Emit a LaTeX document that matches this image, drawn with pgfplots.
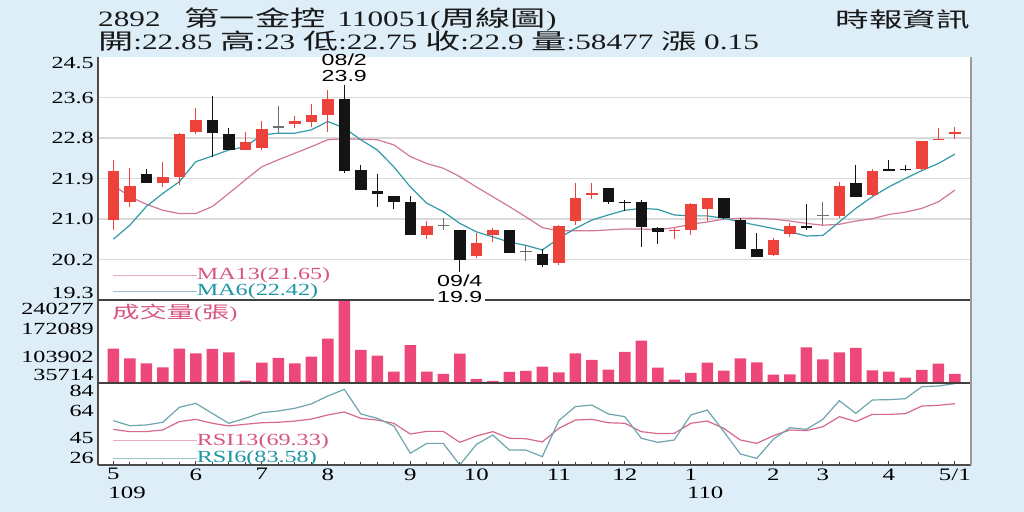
\documentclass[border=0pt]{standalone}
\usepackage{pgfplots}
\pgfplotsset{compat=1.18}
\usepackage{pgfplotstable}
\usepackage{fontspec}
\setmainfont{Liberation Serif}[FakeStretch=1.42]
\newfontfamily\sansA{Liberation Sans}[FakeStretch=1.45]
\newfontfamily\cjk{Noto Sans CJK TC}[FakeStretch=1.6]

\definecolor{bg}{RGB}{221,238,249}
\definecolor{cred}{RGB}{236,66,58}
\definecolor{cblk}{RGB}{20,20,20}
\definecolor{cgry}{RGB}{110,110,110}
\definecolor{cma13}{RGB}{210,120,150}
\definecolor{cma6}{RGB}{50,155,170}
\definecolor{cvol}{RGB}{238,72,122}
\definecolor{crsi13}{RGB}{215,105,140}
\definecolor{crsi6}{RGB}{110,165,175}
\definecolor{cgrid}{RGB}{218,218,218}
\definecolor{tpink}{RGB}{215,85,130}
\definecolor{tteal}{RGB}{30,150,165}
\definecolor{lpink}{RGB}{232,172,188}
\definecolor{lteal}{RGB}{150,195,200}

\newcommand{\tf}{\fontsize{17bp}{18bp}\selectfont}
\newcommand{\hf}{\fontsize{21bp}{22bp}\selectfont}
\newcommand{\af}{\sansA\fontsize{16bp}{16bp}\selectfont}

\pgfplotstableread{
i o h l c
0 21.01 22.30 20.80 22.05
1 21.39 22.12 21.30 21.75
3 21.81 22.26 21.71 21.94
4 21.94 22.87 21.76 22.85
5 22.90 23.41 22.85 23.15
8 22.51 22.90 22.50 22.69
9 22.55 23.12 22.50 22.96
11 23.07 23.24 22.98 23.12
12 23.11 23.50 23.01 23.25
13 23.26 23.80 22.90 23.60
19 20.70 20.99 20.60 20.89
22 20.25 20.74 20.19 20.53
23 20.70 20.85 20.55 20.80
27 20.10 20.90 20.05 20.89
28 20.99 21.80 20.90 21.49
29 21.55 21.80 21.46 21.60
34 20.77 20.83 20.60 20.80
35 20.80 21.38 20.70 21.35
36 21.25 21.49 20.99 21.49
40 20.26 20.62 20.24 20.58
41 20.71 20.94 20.65 20.89
44 21.10 21.83 21.06 21.74
46 21.55 22.10 21.51 22.05
49 22.10 22.70 22.08 22.70
50 22.72 22.99 22.72 22.75
51 22.85 23.00 22.75 22.90
}\redT

\pgfplotstableread{
i o h l c
2 21.99 22.10 21.80 21.81
6 23.15 23.66 22.37 22.87
7 22.85 22.99 22.50 22.51
14 23.60 23.90 22.01 22.07
15 22.08 22.19 21.65 21.65
16 21.64 21.99 21.30 21.56
17 21.53 21.53 21.24 21.40
18 21.39 21.53 20.70 20.70
21 20.80 20.80 19.90 20.15
24 20.80 20.80 20.30 20.30
26 20.28 20.40 20.01 20.05
30 21.70 21.70 21.35 21.39
31 21.40 21.45 21.21 21.37
32 21.39 21.44 20.44 20.87
33 20.83 20.87 20.50 20.76
37 21.49 21.49 21.04 21.05
38 21.02 21.05 20.40 20.40
39 20.39 20.74 20.21 20.21
42 20.89 21.35 20.80 20.85
45 21.80 22.19 21.51 21.51
47 22.10 22.30 22.07 22.07
48 22.11 22.19 22.07 22.09
}\blkT

\pgfplotstableread{
i o h l c
10 23.00 23.46 22.88 23.00
20 20.90 21.05 20.80 20.90
25 20.33 20.47 20.14 20.33
43 21.10 21.39 20.90 21.10
}\dojT

\pgfplotstableread{
i ma6 ma13 rsi6 rsi13 v
0 20.60 21.76 57.4 51.2 120330
1 20.90 21.51 53.8 49.6 96500
2 21.30 21.35 54.3 49.6 84180
3 21.58 21.22 56.2 50.8 74330
4 21.83 21.15 66.8 56.7 120330
5 22.26 21.15 69.6 58.3 108830
6 22.38 21.30 62.5 55.5 119510
7 22.51 21.58 55.5 53.6 111290
8 22.58 21.87 59.0 54.8 41460
9 22.83 22.15 63.0 55.9 85820
10 22.87 22.30 64.2 56.2 97330
11 22.87 22.44 66.1 57.1 84180
12 22.94 22.58 69.2 58.5 100610
13 23.12 22.73 74.8 61.4 144970
14 22.98 22.75 79.5 63.5 240277
15 22.73 22.74 62.1 59.0 117040
16 22.51 22.73 59.0 57.8 103080
17 22.15 22.62 53.6 55.5 63640
18 21.72 22.37 34.3 47.9 129360
19 21.37 22.22 41.3 49.8 63640
20 21.19 22.12 41.3 49.8 57890
21 20.94 21.94 26.0 42.0 108010
22 20.76 21.72 40.5 46.5 45570
23 20.65 21.51 47.2 49.6 40640
24 20.54 21.30 36.6 44.9 62820
25 20.47 21.08 36.6 44.6 65290
26 20.37 20.85 31.9 42.3 75970
27 20.62 20.78 57.4 51.9 62000
28 20.83 20.78 67.3 57.8 108830
29 21.01 20.78 68.4 58.3 92400
30 21.12 20.80 62.1 55.9 68570
31 21.22 20.82 60.2 55.5 112110
32 21.26 20.82 44.9 49.6 140040
33 21.24 20.80 42.0 48.2 73500
34 21.12 20.85 43.7 48.4 43930
35 21.10 20.92 61.4 55.5 60360
36 21.10 20.97 64.9 57.1 85820
37 21.05 21.03 49.6 51.9 66110
38 20.97 21.05 33.8 43.7 96500
39 20.90 21.05 30.7 41.3 86640
40 20.83 21.03 44.2 46.7 56250
41 20.76 20.99 52.4 50.8 57070
42 20.67 20.94 51.2 50.3 123610
43 20.68 20.90 58.3 53.1 94040
44 20.97 20.92 71.5 60.2 111290
45 21.26 20.99 62.5 56.7 121970
46 21.51 21.04 72.0 61.8 66930
47 21.72 21.13 72.2 61.8 63640
48 21.90 21.18 72.9 62.3 48860
49 22.07 21.26 81.4 67.7 67750
50 22.22 21.40 81.9 68.2 83360
51 22.42 21.65 83.58 69.33 58477
}\dataT

\begin{document}
\begin{tikzpicture}
\path[use as bounding box] (0bp,0bp) rectangle (1024bp,512bp);
\fill[bg] (0bp,0bp) rectangle (1024bp,512bp);
\fill[white] (98bp,47bp) rectangle (971bp,455bp);

% header
\node[anchor=west, inner sep=0, font=\hf, text=black!90] at (98bp,492bp)
  {\fontsize{22bp}{22bp}\selectfont 2892\hspace{24bp}{\cjk 第一金控}\hspace{12bp}110051({\cjk 周線圖})};
\node[anchor=west, inner sep=0, font=\hf, text=black!90] at (98bp,470.5bp)
  {\fontsize{22bp}{22bp}\selectfont{\cjk 開}:22.85 {\cjk 高}:23 {\cjk 低}:22.75 {\cjk 收}:22.9 {\cjk 量}:58477 {\cjk 漲} 0.15};
\node[anchor=east, inner sep=0, font=\hf, text=black!90] at (970bp,492bp) {\cjk 時報資訊};

% ---------------- price panel
\begin{axis}[
  at={(98bp,212bp)}, anchor=south west, scale only axis,
  width=873bp, height=243bp,
  xmin=-0.927, xmax=51.98, ymin=19.3, ymax=24.5,
  axis line style={draw=none},
  xtick=\empty,
  ytick={20.1667,21.0333,21.9,22.7667,23.6333},
  yticklabels={}, major tick length=0pt,
  ymajorgrids, grid style={draw=cgrid, line width=1.4bp},
  clip mode=individual,
]
\addplot[cma13, line width=1.2bp] table[x=i,y=ma13] {\dataT};
\addplot[cma6, line width=1.2bp] table[x=i,y=ma6] {\dataT};
% wicks
\addplot[draw=none, error bars/.cd, y dir=plus, y explicit, error mark=none,
  error bar style={draw=cred, line width=1.1bp}]
  table[x=i, y=l, y error expr=\thisrow{h}-\thisrow{l}] {\redT};
\addplot[draw=none, error bars/.cd, y dir=plus, y explicit, error mark=none,
  error bar style={draw=cblk, line width=1.1bp}]
  table[x=i, y=l, y error expr=\thisrow{h}-\thisrow{l}] {\blkT};
\addplot[draw=none, error bars/.cd, y dir=plus, y explicit, error mark=none,
  error bar style={draw=cgry, line width=1bp}]
  table[x=i, y=l, y error expr=\thisrow{h}-\thisrow{l}] {\dojT};
% bodies
\addplot[draw=none, error bars/.cd, y dir=plus, y explicit, error mark=none,
  error bar style={draw=cred, line width=11.5bp}]
  table[x=i, y=o, y error expr=\thisrow{c}-\thisrow{o}] {\redT};
\addplot[draw=none, error bars/.cd, y dir=plus, y explicit, error mark=none,
  error bar style={draw=cblk, line width=11.5bp}]
  table[x=i, y=c, y error expr=\thisrow{o}-\thisrow{c}] {\blkT};
\addplot[draw=none, error bars/.cd, y dir=plus, y explicit, error mark=none,
  error bar style={draw=cgry, line width=11.5bp}]
  table[x=i, y expr=\thisrow{o}-0.012, y error expr=0.025] {\dojT};

% y labels
\node[anchor=east, font=\tf, inner sep=0] at (axis cs:-0.927,24.38) [xshift=-4bp] {24.5};
\node[anchor=east, font=\tf, inner sep=0] at (axis cs:-0.927,23.6333) [xshift=-4bp] {23.6};
\node[anchor=east, font=\tf, inner sep=0] at (axis cs:-0.927,22.7667) [xshift=-4bp] {22.8};
\node[anchor=east, font=\tf, inner sep=0] at (axis cs:-0.927,21.9) [xshift=-4bp] {21.9};
\node[anchor=east, font=\tf, inner sep=0] at (axis cs:-0.927,21.0333) [xshift=-4bp] {21.0};
\node[anchor=east, font=\tf, inner sep=0] at (axis cs:-0.927,20.1667) [xshift=-4bp] {20.2};
\node[anchor=east, font=\tf, inner sep=0] at (axis cs:-0.927,19.46) [xshift=-4bp] {19.3};

% annotations
\node[font=\af, inner sep=0] at (axis cs:14,24.45) {08/2};
\node[font=\af, inner sep=0] at (axis cs:14,24.10) {23.9};
\node[font=\af, inner sep=0] at (axis cs:21,19.72) {09/4};

% legend
\draw[lpink, line width=1bp] (axis cs:0,19.83) -- (axis cs:5.05,19.83);
\node[anchor=west, inner sep=0, font=\tf, text=tpink] at (axis cs:5.05,19.83) {MA13(21.65)};
\draw[lteal, line width=1bp] (axis cs:0,19.49) -- (axis cs:5.05,19.49);
\node[anchor=west, inner sep=0, font=\tf, text=tteal] at (axis cs:5.05,19.49) {MA6(22.42)};
\end{axis}

% ---------------- volume panel
\begin{axis}[
  at={(98bp,129bp)}, anchor=south west, scale only axis,
  width=873bp, height=83bp,
  xmin=-0.927, xmax=51.98, ymin=35714, ymax=240277,
  axis line style={draw=none},
  xtick=\empty, ytick=\empty,
  clip mode=individual,
]
\addplot[ybar, bar width=11.5bp, bar shift=0pt, fill=cvol, draw=none] table[x=i,y=v] {\dataT};
\node[anchor=east, font=\tf, inner sep=0] at (axis cs:-0.927,218000) [xshift=-4bp] {240277};
\node[anchor=east, font=\tf, inner sep=0] at (axis cs:-0.927,168800) [xshift=-4bp] {172089};
\node[anchor=east, font=\tf, inner sep=0] at (axis cs:-0.927,100530) [xshift=-4bp] {103902};
\node[anchor=east, font=\tf, inner sep=0] at (axis cs:-0.927,55500) [xshift=-4bp] {35714};
\node[anchor=west, inner sep=0, font=\tf, text=tpink] at (axis cs:0,208000) [xshift=-1bp] {{\cjk 成交量}({\cjk 張})};
\end{axis}

% ---------------- RSI panel
\begin{axis}[
  at={(98bp,47bp)}, anchor=south west, scale only axis,
  width=873bp, height=82bp,
  xmin=-0.927, xmax=51.98, ymin=26, ymax=84,
  axis line style={draw=none},
  ytick=\empty,
  xtick={0,5,9,13,18,22,27,31,35,40,43,47,51},
  xticklabels={5,6,7,8,9,10,11,12,1,2,3,4,5/1},
  minor xtick={0,...,51},
  tick align=inside, xtick pos=bottom,
  major tick length=4bp, minor tick length=2.5bp,
  tick style={draw=black!75, line width=0.8bp},
  xticklabel style={font=\fontsize{17.5bp}{18bp}\selectfont},
  clip mode=individual,
]
\addplot[crsi13, line width=1.2bp] table[x=i,y=rsi13] {\dataT};
\addplot[crsi6, line width=1.2bp] table[x=i,y=rsi6] {\dataT};
\node[anchor=east, font=\tf, inner sep=0] at (axis cs:-0.927,78.6) [xshift=-4bp] {84};
\node[anchor=east, font=\tf, inner sep=0] at (axis cs:-0.927,64.4) [xshift=-4bp] {64};
\node[anchor=east, font=\tf, inner sep=0] at (axis cs:-0.927,44.9) [xshift=-4bp] {45};
\node[anchor=east, font=\tf, inner sep=0] at (axis cs:-0.927,31.2) [xshift=-4bp] {26};
\draw[lpink, line width=1bp] (axis cs:0,43.0) -- (axis cs:5.05,43.0);
\node[anchor=west, inner sep=0, font=\tf, text=tpink] at (axis cs:5.05,43.0) {RSI13(69.33)};
\draw[lteal, line width=1bp] (axis cs:0,30.95) -- (axis cs:5.05,30.95);
\node[anchor=west, inner sep=0, font=\tf, text=tteal] at (axis cs:5.05,30.95) {RSI6(83.58)};
\node[anchor=north west, inner sep=0, font=\fontsize{17.5bp}{18bp}\selectfont] at (axis cs:0,26) [xshift=-5bp, yshift=-22bp] {109};
\node[anchor=north west, inner sep=0, font=\fontsize{17.5bp}{18bp}\selectfont] at (axis cs:35,26) [xshift=-4bp, yshift=-22bp] {110};
\end{axis}

% frame lines
\draw[black!70, line width=1.2bp] (98bp,47bp) -- (98bp,455bp);
\draw[black!75, line width=1.2bp] (98bp,212bp) -- (971bp,212bp);
\draw[black!75, line width=1.2bp] (98bp,129bp) -- (971bp,129bp);
\draw[black!70, line width=1.2bp] (98bp,47bp) -- (971bp,47bp);
\draw[black!40, line width=1.8bp] (971bp,47bp) -- (971bp,455bp);
\node[font=\af, fill=white, inner xsep=3bp, inner ysep=0.5bp] at (459.8bp,215bp) {19.9};
\end{tikzpicture}
\end{document}
